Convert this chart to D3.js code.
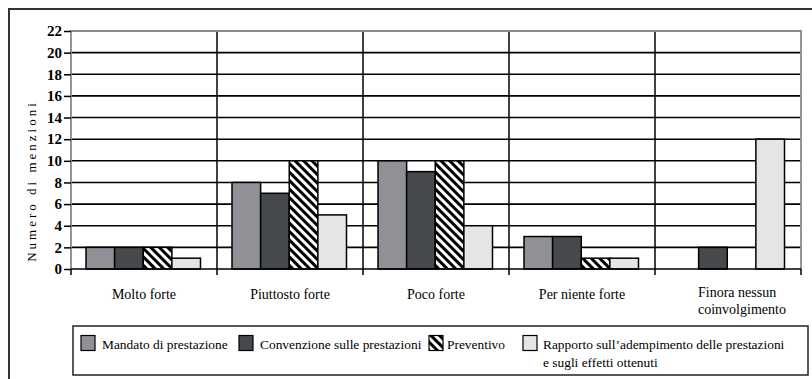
<!DOCTYPE html>
<html>
<head>
<meta charset="utf-8">
<script src="https://cdn.jsdelivr.net/npm/d3@7/dist/d3.min.js"></script>
<style>
  html, body { margin: 0; padding: 0; background: #fff; }
  svg { display: block; }
</style>
</head>
<body>
<svg id="chart" width="812" height="379"></svg>
<script>
// Categories (level of involvement) and the four document types
const categories = ["Molto forte", "Piuttosto forte", "Poco forte", "Per niente forte", "Finora nessun coinvolgimento"];
const categoryLines = [["Molto forte"], ["Piuttosto forte"], ["Poco forte"], ["Per niente forte"], ["Finora nessun", "coinvolgimento"]];
const seriesNames = ["Mandato di prestazione", "Convenzione sulle prestazioni", "Preventivo", "Rapporto sull\u2019adempimento delle prestazioni e sugli effetti ottenuti"];
const legendLines = [["Mandato di prestazione"], ["Convenzione sulle prestazioni"], ["Preventivo"], ["Rapporto sull\u2019adempimento delle prestazioni", "e sugli effetti ottenuti"]];

// Number of mentions per category, one array per series
const mandato     = [2, 8, 10, 3, 0];
const convenzione = [2, 7, 9, 3, 2];
const preventivo  = [2, 10, 10, 1, 0];
const rapporto    = [1, 5, 4, 1, 12];
const seriesValues = [mandato, convenzione, preventivo, rapporto];

const yTicks = [0, 2, 4, 6, 8, 10, 12, 14, 16, 18, 20, 22];
const yTitle = "Numero di menzioni";

// Layout
const FONT = "Liberation Serif";
const plot = { left: 71, right: 801, top: 31, bottom: 269 };
const fills = ["#909196", "#474a4d", "url(#hatch)", "#e4e5e4"];

const svg = d3.select("#chart");

// diagonal hatch for "Preventivo"
const defs = svg.append("defs");
const pat = defs.append("pattern")
  .attr("id", "hatch")
  .attr("patternUnits", "userSpaceOnUse")
  .attr("width", 6).attr("height", 6)
  .attr("patternTransform", "rotate(-45)");
pat.append("rect").attr("width", 6).attr("height", 6).attr("fill", "#fff");
pat.append("rect").attr("width", 3).attr("height", 6).attr("fill", "#000");

// outer frame
svg.append("rect")
  .attr("x", 9).attr("y", 9).attr("width", 830).attr("height", 400)
  .attr("fill", "none").attr("stroke", "#333").attr("stroke-width", 2);

const y = d3.scaleLinear().domain([0, 22]).range([plot.bottom, plot.top]);
const x0 = d3.scaleBand().domain(categories).range([plot.left, plot.right]).padding(0);
const x1 = d3.scaleBand().domain(seriesNames).range([15, 129.5]).padding(0);

// horizontal gridlines
svg.append("g")
  .selectAll("line")
  .data(yTicks.filter(t => t > 0 && t < 22))
  .join("line")
  .attr("x1", plot.left).attr("x2", plot.right)
  .attr("y1", d => y(d)).attr("y2", d => y(d))
  .attr("stroke", "#000").attr("stroke-width", 1.6);

// vertical separators between categories
svg.append("g")
  .selectAll("line")
  .data(categories.slice(1))
  .join("line")
  .attr("x1", d => x0(d)).attr("x2", d => x0(d))
  .attr("y1", plot.top).attr("y2", plot.bottom)
  .attr("stroke", "#000").attr("stroke-width", 1.5);

// bars
const groups = svg.append("g")
  .selectAll("g")
  .data(categories)
  .join("g")
  .attr("transform", d => `translate(${x0(d)},0)`);

groups.selectAll("rect")
  .data((c, ci) => seriesNames.map((s, si) => ({ s, si, v: seriesValues[si][ci] })).filter(d => d.v > 0))
  .join("rect")
  .attr("x", d => x1(d.s))
  .attr("width", x1.bandwidth())
  .attr("y", d => y(d.v))
  .attr("height", d => y(0) - y(d.v))
  .attr("fill", d => fills[d.si])
  .attr("stroke", "#000").attr("stroke-width", 1.5);

// plot border (top, right, left) in grey
svg.append("path")
  .attr("d", `M${plot.left},${plot.bottom}V${plot.top}H${plot.right}V${plot.bottom}`)
  .attr("fill", "none").attr("stroke", "#8a8a8a").attr("stroke-width", 1.8);

// y axis
const yAxis = svg.append("g")
  .attr("transform", `translate(${plot.left},0)`)
  .call(d3.axisLeft(y).tickValues(yTicks).tickSize(7).tickPadding(2).tickSizeOuter(0));
yAxis.select(".domain").remove();
yAxis.selectAll(".tick line").attr("stroke", "#000").attr("stroke-width", 1.5);
yAxis.selectAll(".tick text")
  .attr("fill", "#000")
  .style("font-family", FONT)
  .style("font-size", "15px")
  .style("font-weight", "bold");

// x axis baseline and ticks at category boundaries
svg.append("line")
  .attr("x1", plot.left).attr("x2", plot.right)
  .attr("y1", y(0)).attr("y2", y(0))
  .attr("stroke", "#000").attr("stroke-width", 1.6);
const bounds = categories.map(c => x0(c)).concat([x0(categories[categories.length - 1]) + x0.bandwidth()]);
svg.append("g")
  .selectAll("line")
  .data(bounds)
  .join("line")
  .attr("x1", d => d).attr("x2", d => d)
  .attr("y1", y(0)).attr("y2", y(0) + 6)
  .attr("stroke", "#000").attr("stroke-width", 1.5);

// category labels
const catLabels = svg.append("g")
  .selectAll("text")
  .data(categories)
  .join("text")
  .style("font-family", FONT)
  .style("font-size", "14px")
  .attr("fill", "#000");
catLabels.each(function (c, i) {
  const lines = categoryLines[i];
  const cx = x0(c) + x0.bandwidth() / 2;
  const t = d3.select(this);
  if (lines.length === 1) {
    t.attr("text-anchor", "middle").attr("x", cx).attr("y", 299).text(lines[0]);
  } else {
    t.attr("text-anchor", "start");
    lines.forEach((ln, k) => {
      t.append("tspan").attr("x", cx - 30).attr("y", 297 + k * 17).text(ln);
    });
  }
});

// y axis title
svg.append("text")
  .attr("transform", "translate(36,181) rotate(-90)")
  .attr("text-anchor", "middle")
  .style("font-family", FONT)
  .style("font-size", "13px")
  .style("letter-spacing", "3px")
  .attr("fill", "#000")
  .text(yTitle);

// legend
const legend = svg.append("g");
legend.append("rect")
  .attr("x", 73).attr("y", 326).attr("width", 735).attr("height", 49)
  .attr("fill", "#fff").attr("stroke", "#222").attr("stroke-width", 1.5);

const legendSwatchX = [81, 239, 429, 523];
const legendTextX = [102, 260, 447, 543];
const legendItems = legend.selectAll("g.item")
  .data(seriesNames)
  .join("g").attr("class", "item");
legendItems.append("rect")
  .attr("x", (d, i) => legendSwatchX[i]).attr("y", 335.5)
  .attr("width", 14).attr("height", 15)
  .attr("fill", (d, i) => fills[i])
  .attr("stroke", "#000").attr("stroke-width", 1.2);
legendItems.append("text")
  .style("font-family", FONT)
  .style("font-size", "13.4px")
  .attr("fill", "#000")
  .each(function (d, i) {
    const t = d3.select(this);
    legendLines[i].forEach((ln, k) => {
      t.append("tspan").attr("x", legendTextX[i]).attr("y", 349 + k * 18).text(ln);
    });
  });
</script>
</body>
</html>
